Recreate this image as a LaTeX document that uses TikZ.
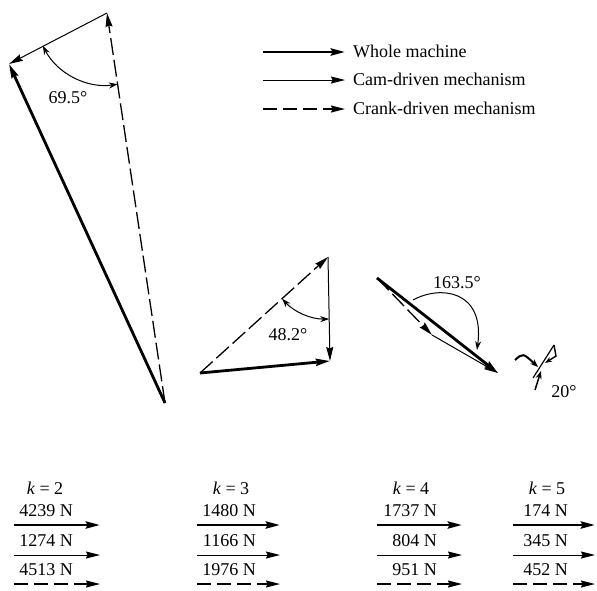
\documentclass[tikz,border=0pt]{standalone}
\usepackage{fontspec}
\setmainfont{Liberation Serif}
\usetikzlibrary{arrows.meta,calc}
\begin{document}
\begin{tikzpicture}[x=1pt,y=-1pt,
  tipbig/.style={-{Stealth[length=14pt,width=7pt,inset=1.5pt]}},
  whole/.style={line width=2.8pt, tipbig},
  cam/.style={line width=1pt, tipbig},
  crank/.style={line width=1.3pt, dash pattern=on 17pt off 5pt, tipbig},
  crankleg/.style={line width=1.3pt, dash pattern=on 14pt off 6pt, tipbig},
  angboth/.style={line width=1pt, {Stealth[length=9pt,width=6pt]}-{Stealth[length=9pt,width=6pt]}},
  angone/.style={line width=1pt, -{Stealth[length=9pt,width=6pt]}},
  lbl/.style={font=\fontsize{18}{20}\selectfont, inner sep=0pt}
]
\useasboundingbox (0,0) rectangle (597,590);

% ---------- k = 2 polygon ----------
\coordinate (O2) at (165,403);
\coordinate (P2) at (9,64);
\coordinate (T2) at (107,13);
\draw[crank] (O2) -- (T2);
\draw[cam] (T2) -- (P2);
\draw[whole] (O2) -- (P2);
\draw[angboth] (T2) ++(207:72pt) arc[start angle=207,end angle=278.6,radius=72pt];
\node[lbl] (a2) at (68,98) {69.5°};

% ---------- k = 3 polygon ----------
\coordinate (A3) at (200,373);
\coordinate (B3) at (328,257);
\coordinate (C3) at (330,361);
\draw[crank] (A3) -- (B3);
\draw[cam] (B3) -- (C3);
\draw[whole] (A3) -- (C3);
\draw[angboth] (B3) ++(222.2:62pt) arc[start angle=222.2,end angle=271.1,radius=62pt];
\node[lbl] (a3) at (288,335) {48.2°};

% ---------- k = 4 polygon ----------
\coordinate (O4) at (377,278);
\coordinate (D4) at (432,335);
\coordinate (E4) at (498,373);
\draw[crank] (O4) -- (D4);
\draw[cam] (D4) -- (E4);
\draw[whole] (O4) -- (E4);
\draw[angone] (413,300) .. controls (440,285) and (485,290) .. (477,350);
\node[lbl] (a4) at (457,283) {163.5°};

% ---------- k = 5 polygon (tiny) ----------
\coordinate (O5) at (515,360);
\coordinate (M5) at (538,367);
\draw[line width=2pt, -{Stealth[length=8pt,width=6pt]}] (O5) .. controls (523,353) .. (M5);
\draw[line width=1.2pt] (533,378) -- (554,345);
\draw[line width=1.4pt, -{Stealth[length=7pt,width=5pt]}] (554,345) -- (556,356) -- (545,363);
\draw[line width=1.5pt, -{Stealth[length=8pt,width=6pt]}] (535,390) -- (541,371);
\node[lbl] (a5) at (564,392) {20°};

% ---------- legend ----------
\coordinate (L1a) at (263,52); \coordinate (L1b) at (345,52);
\coordinate (L2a) at (263,80); \coordinate (L2b) at (345,80);
\coordinate (L3a) at (263,109); \coordinate (L3b) at (345,109);
\draw[whole] (L1a) -- (L1b);
\draw[cam] (L2a) -- (L2b);
\draw[crankleg] (L3a) -- (L3b);
\node[lbl, anchor=west] (t1) at (353,51) {Whole machine};
\node[lbl, anchor=west] (t2) at (353,79) {Cam-driven mechanism};
\node[lbl, anchor=west] (t3) at (353,108) {Crank-driven mechanism};

% ---------- magnitudes ----------
\foreach \xl/\xr/\xc/\xe/\kk/\fa/\fb/\fc in {
   14/100/45/73/2/4239/1274/4513,
   197/280/231/256/3/1480/1166/1976,
   377/462/411/437/4/1737/804/951,
   513/595/547/568/5/174/345/452}{
  \node[lbl] (k\kk) at (\xc,488) {\textit{k} = \kk};
  \node[lbl, anchor=east] (fa\kk) at (\xe,511) {\fa\ N};
  \node[lbl, anchor=east] (fb\kk) at (\xe,541) {\fb\ N};
  \node[lbl, anchor=east] (fc\kk) at (\xe,570) {\fc\ N};
  \coordinate (wa\kk) at (\xl,525); \coordinate (wb\kk) at (\xr,525);
  \coordinate (ca\kk) at (\xl,555); \coordinate (cb\kk) at (\xr,555);
  \coordinate (ra\kk) at (\xl,584); \coordinate (rb\kk) at (\xr,584);
  \draw[whole] (wa\kk) -- (wb\kk);
  \draw[cam] (ca\kk) -- (cb\kk);
  \draw[crankleg] (ra\kk) -- (rb\kk);
}
\end{tikzpicture}
\end{document}
